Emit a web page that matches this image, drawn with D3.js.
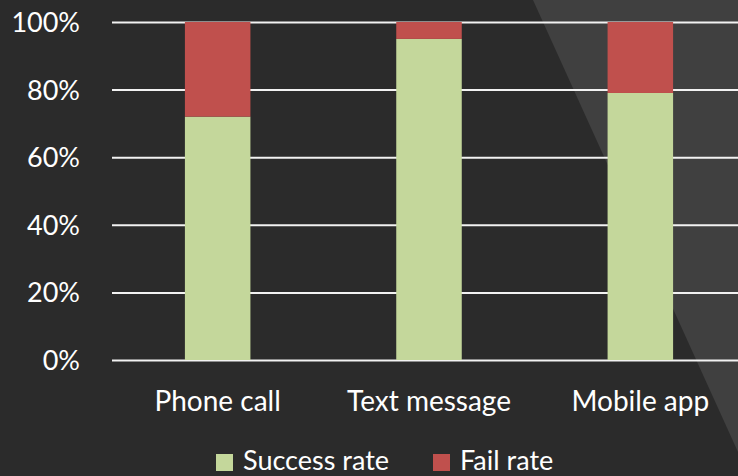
<!DOCTYPE html>
<html>
<head>
<meta charset="utf-8">
<script src="https://cdn.jsdelivr.net/npm/d3@7"></script>
<style>
  html, body { margin: 0; padding: 0; background: #2b2b2b; }
  svg { display: block; }
  text { font-family: Lato, "Open Sans", sans-serif; fill: #ffffff; }
</style>
</head>
<body>
<div id="chart"></div>
<script>

// ======================= //
// DATA
// ======================= //

var categories = ["Phone call", "Text message", "Mobile app"]
var seriesNames = ["Success rate", "Fail rate"]
var successRate = [0.72, 0.95, 0.79]
var failRate = [0.28, 0.05, 0.21]
var yTicks = [0, 0.2, 0.4, 0.6, 0.8, 1]
var seriesColors = ["#c4d79b", "#c0504d"]

// rows for d3.stack
var rows = categories.map(function(c, i) {
  return { cat: c, "Success rate": successRate[i], "Fail rate": failRate[i] }
})

// ======================= //
// SVG AREA
// ======================= //

var W = 738, H = 476
var margin = {top: 22, right: -8, bottom: 116, left: 112},
    width = W - margin.left - margin.right,
    height = H - margin.top - margin.bottom;

var root = d3.select("#chart")
  .append("svg")
    .attr("width", W)
    .attr("height", H)

// background
root.append("rect")
  .attr("width", W).attr("height", H)
  .attr("fill", "#2b2b2b")

// lighter diagonal panel on the right
root.append("path")
  .attr("d", "M533,0 L738,0 L738,452 Z")
  .attr("fill", "#404040")

var svg = root.append("g")
  .attr("transform", "translate(" + margin.left + "," + margin.top + ")")

// ======================= //
// SCALES
// ======================= //

var x = d3.scaleBand()
  .domain(categories)
  .range([0, width])
  .paddingInner(0.69)
  .paddingOuter(0.345)

var y = d3.scaleLinear()
  .domain([0, 1])
  .range([height, 0])

var color = d3.scaleOrdinal()
  .domain(seriesNames)
  .range(seriesColors)

// ======================= //
// Y AXIS + GRID
// ======================= //

var yAxis = svg.append("g")
  .call(d3.axisLeft(y)
    .tickValues(yTicks)
    .tickFormat(d3.format(".0%"))
    .tickSizeInner(-width)
    .tickSizeOuter(0)
    .tickPadding(32))
yAxis.select(".domain").remove()
yAxis.selectAll("line")
  .attr("stroke", "#f2f2f2")
  .attr("stroke-width", 2)
yAxis.selectAll("text")
  .attr("font-size", 27)
  .attr("fill", "#ffffff")
  .attr("dy", "0.35em")

// ======================= //
// STACKED BARS
// ======================= //

var stackedData = d3.stack()
  .keys(seriesNames)
  (rows)

svg.append("g")
  .selectAll("g")
  .data(stackedData)
  .enter().append("g")
    .attr("fill", function(d) { return color(d.key) })
  .selectAll("rect")
  .data(function(d) { return d })
  .enter().append("rect")
    .attr("x", function(d) { return x(d.data.cat) })
    .attr("width", x.bandwidth())
    .attr("y", function(d) { return y(d[1]) })
    .attr("height", function(d) { return y(d[0]) - y(d[1]) })

// ======================= //
// X AXIS
// ======================= //

var xAxis = svg.append("g")
  .attr("transform", "translate(0," + height + ")")
  .call(d3.axisBottom(x).tickSize(0).tickPadding(31))
xAxis.select(".domain").remove()
xAxis.selectAll("text")
  .attr("font-size", 28)
  .attr("fill", "#ffffff")

// ======================= //
// LEGEND
// ======================= //

var legendX = [216, 433]
var legend = root.append("g")
  .selectAll("g")
  .data(seriesNames)
  .enter().append("g")
    .attr("transform", function(d, i) { return "translate(" + legendX[i] + ",454)" })
legend.append("rect")
  .attr("width", 17).attr("height", 17)
  .attr("fill", function(d) { return color(d) })
legend.append("text")
  .attr("x", 27)
  .attr("y", 16)
  .attr("font-size", 27)
  .text(function(d) { return d })

</script>
</body>
</html>
